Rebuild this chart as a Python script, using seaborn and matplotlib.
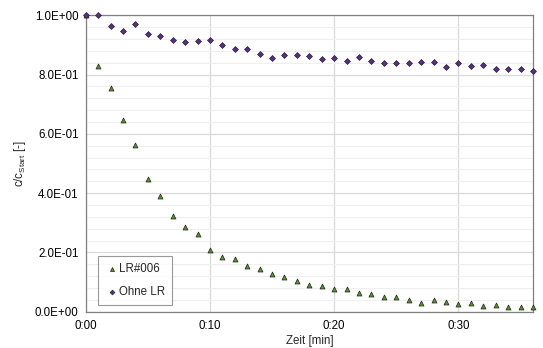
import numpy as np
import pandas as pd
import matplotlib
matplotlib.use('Agg')
import matplotlib.pyplot as plt
import seaborn as sns
from matplotlib.ticker import FuncFormatter, MultipleLocator

# Zeit in Minuten
zeit = list(range(0, 37))

# c/c_Start mit Lichtreaktor LR#006
lr006 = [1.0, 0.830, 0.754, 0.647, 0.561, 0.448, 0.391, 0.324, 0.286, 0.262,
         0.209, 0.183, 0.177, 0.155, 0.143, 0.126, 0.117, 0.104, 0.091, 0.088,
         0.075, 0.078, 0.062, 0.061, 0.051, 0.051, 0.041, 0.029, 0.039, 0.033,
         0.025, 0.029, 0.019, 0.023, 0.017, 0.017, 0.017]

# c/c_Start ohne Lichtreaktor
ohne_lr = [1.0, 1.0, 0.963, 0.946, 0.971, 0.937, 0.930, 0.916, 0.909, 0.914,
           0.916, 0.901, 0.887, 0.885, 0.869, 0.856, 0.866, 0.867, 0.864, 0.851,
           0.857, 0.847, 0.858, 0.845, 0.840, 0.838, 0.840, 0.844, 0.842, 0.826,
           0.838, 0.829, 0.832, 0.819, 0.818, 0.818, 0.813]

sns.set_style('white')
plt.rcParams['font.family'] = ['Liberation Sans', 'DejaVu Sans']
fs = 8.3

fig = plt.figure(figsize=(5.43, 3.48), dpi=100)
ax = fig.add_axes([0.1578, 0.1043, 0.8238, 0.8517])

df_lr = pd.DataFrame({'Zeit': zeit, 'c': lr006})
df_ohne = pd.DataFrame({'Zeit': zeit, 'c': ohne_lr})

sns.scatterplot(data=df_lr, x='Zeit', y='c', marker='^', s=13, color='#55922a',
                edgecolor='#222222', linewidth=0.5, label='LR#006', ax=ax,
                clip_on=False, zorder=3)
sns.scatterplot(data=df_ohne, x='Zeit', y='c', marker='D', s=9, color='#5b2d8e',
                edgecolor='#222222', linewidth=0.5, label='Ohne LR', ax=ax,
                clip_on=False, zorder=4)

ax.set_xlim(0, 36)
ax.set_ylim(0, 1.0)
ax.xaxis.set_major_locator(MultipleLocator(10))
ax.yaxis.set_major_locator(MultipleLocator(0.2))
ax.yaxis.set_minor_locator(MultipleLocator(0.04))
ax.xaxis.set_major_formatter(FuncFormatter(lambda v, p: '%d:%02d' % (v // 60, v % 60)))
ax.yaxis.set_major_formatter(FuncFormatter(lambda v, p: '%.1E' % v))

ax.grid(which='major', axis='both', color='#d9d9d9', linewidth=0.9)
ax.grid(which='minor', axis='y', color='#efefef', linewidth=0.8)
ax.set_axisbelow(True)
for s in ax.spines.values():
    s.set_color('#808080')
    s.set_linewidth(0.9)
ax.tick_params(which='both', length=0, labelsize=fs, colors='#000000', pad=5)
ax.tick_params(axis='x', pad=6)

ax.set_xlabel('Zeit [min]', fontsize=fs, labelpad=2)
ax.set_ylabel(r'c/c$_\mathregular{Start}$ [-]', fontsize=fs, labelpad=5)

leg = ax.legend(loc='lower left', bbox_to_anchor=(0.0275, 0.0226), frameon=True,
                fancybox=False, edgecolor='#808080', fontsize=fs,
                handletextpad=0.0, labelspacing=1.0, borderpad=0.6,
                handlelength=1.2, markerscale=0.8, borderaxespad=0)
leg.get_frame().set_linewidth(0.8)

fig.savefig('out.png', dpi=100)
